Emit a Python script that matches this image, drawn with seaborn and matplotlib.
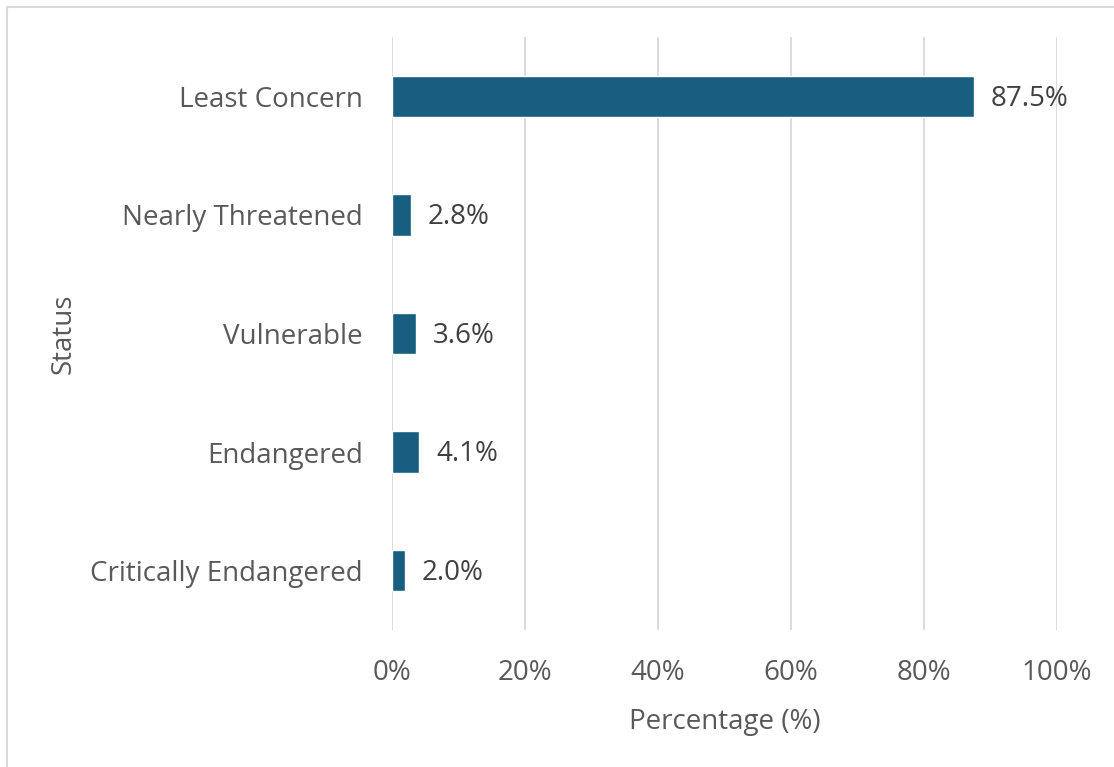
import matplotlib
matplotlib.use("Agg")
import matplotlib.pyplot as plt
import seaborn as sns
import pandas as pd
from matplotlib.patches import Rectangle

categories = ["Least Concern", "Nearly Threatened", "Vulnerable", "Endangered", "Critically Endangered"]
values = [87.5, 2.8, 3.6, 4.1, 2.0]
xticks = [0, 20, 40, 60, 80, 100]
xticklabels = ["0%", "20%", "40%", "60%", "80%", "100%"]

sns.set_theme(style="white")
plt.rcParams['font.family'] = ['Open Sans', 'DejaVu Sans']

df = pd.DataFrame({"Status": categories, "Percentage": values})

fig = plt.figure(figsize=(11.14, 7.67), dpi=100)
ax = fig.add_axes([392/1114, 1-630/767, (1057-392)/1114, (630-37)/767])

sns.barplot(data=df, y="Status", x="Percentage", orient="h", color="#175E80",
            width=0.35, saturation=1, ax=ax, zorder=3)

FS = 20
ax.set_xlim(0, 100)
ax.set_ylim(4.5, -0.5)
ax.set_xticks(xticks)
ax.set_xticklabels(xticklabels)
ax.grid(axis="x", color="#D9D9D9", linewidth=1.3, zorder=0)
ax.grid(axis="y", visible=False)
for s in ax.spines.values():
    s.set_visible(False)
ax.tick_params(axis="x", length=0, pad=21, labelsize=FS, labelcolor="#595959")
ax.tick_params(axis="y", length=0, pad=21, labelsize=FS, labelcolor="#595959")
ax.set_xlabel("Percentage (%)", fontsize=FS, color="#595959", labelpad=15)
ax.set_ylabel("Status", fontsize=FS, color="#595959", labelpad=9)

for i, v in enumerate(values):
    ax.text(v + 2.5, i + 0.02, f"{v:.1f}%", va="center", ha="left", fontsize=FS, color="#404040")

fig.patches.append(Rectangle((7/1114, -0.1), 1.2, 1 - 7/767 + 0.1, transform=fig.transFigure,
                             fill=False, edgecolor="#D9D9D9", linewidth=1.5))

fig.savefig("out.png", dpi=100)
